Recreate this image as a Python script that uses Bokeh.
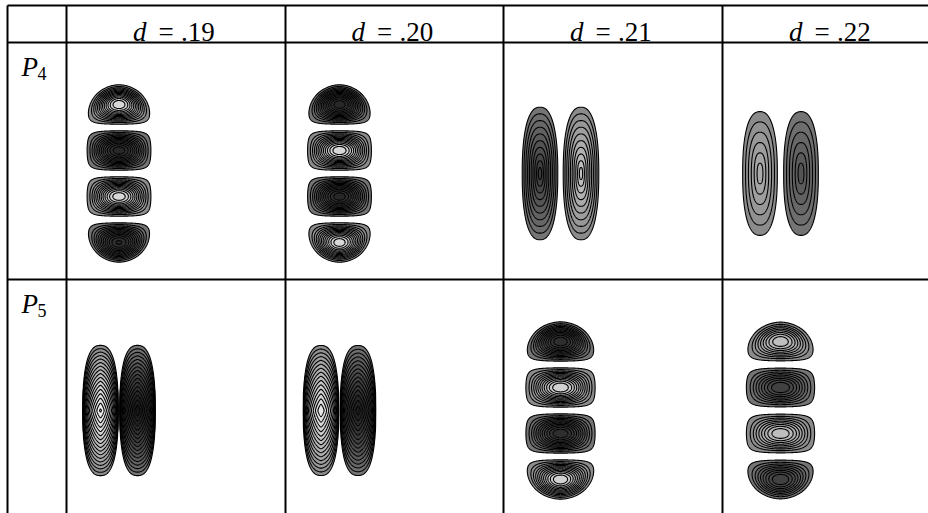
import numpy as np
from bokeh.plotting import figure
from bokeh.models import Range1d
from bokeh.core.properties import value
from bokeh.embed import file_html
from bokeh.resources import INLINE

# ---------------------------------------------------------------- data
d_labels = [".19", ".20", ".21", ".22"]          # column headers, d = ...
mode_labels = ["4", "5"]                         # row headers, P_n

# arrangement of the nodal domains of each eigenfunction
mode_kind = [["stack", "stack", "pair", "pair"],
             ["pinched", "pinched", "stack", "stack"]]

# sign of every nodal domain (top to bottom, or left to right)
lobe_signs = [[[1, -1, 1, -1], [-1, 1, -1, 1], [-1, 1], [1, -1]],
              [[1, -1], [1, -1], [-1, 1, -1, 1], [1, -1, 1, -1]]]

# peak of every nodal domain, measured in contour steps
lobe_peaks = [[[13.3, 13.1, 13.2, 12.6], [13.2, 13.3, 13.1, 13.2], [10.3, 10.3], [6.4, 6.4]],
              [[16.6, 16.2], [15.3, 15.0], [12.3, 12.4, 12.3, 12.4], [9.3, 9.4, 9.3, 9.4]]]

# ---------------------------------------------------------------- layout
W, H = 928, 513
col_edges = [7, 66, 285, 503, 722, 941]
row_edges = [5, 42, 279, 516]
col_dx = [52.5, 54, 57, 58]          # panel centre measured from the cell's left rule
row_dy = 131                         # panel centre measured from the cell's top rule
FONT = value("Liberation Serif")


def gray(sign, k):
    g = 0.5 + sign * (0.045 + 0.025 * k)
    h = int(round(min(max(g, 0.0), 1.0) * 255))
    return "#%02x%02x%02x" % (h, h, h)


def stack_field(u, t, pos, n):
    if pos == 0:
        w = (1 - np.clip(1 - t, 0, 1) ** 2.5) ** 0.5
    elif pos == n - 1:
        w = (1 - np.clip(t, 0, 1) ** 2.5) ** 0.5
    else:
        w = np.ones_like(t)
    a = np.clip(np.abs(u) / np.maximum(w, 1e-6), 0, 1)
    g = np.sin(np.pi * np.clip(t, 0, 1)) * np.cos(np.pi * a / 2)
    return np.clip(g, 0, None) ** 1.5


def cone_field(u, v):
    r = (np.abs(u) ** 2.4 + np.abs(v) ** 2.4) ** (1 / 2.4)
    return np.clip(1 - r, 0, None)


def pinched_field(u, v):
    au = np.clip(np.abs(u), 0, 1)
    s = np.clip(1 - au ** 2.6, 0, None) ** (1 / 2.6)
    arch = np.clip(1 - (np.abs(v) / np.maximum(s, 1e-6)) ** 1.2, 0, None)
    across = (1 - 0.55 * au ** 1.3) * np.clip(1 - au ** 6, 0, None) ** 0.4
    return arch * across


p = figure(width=W, height=H, x_range=Range1d(0, W), y_range=Range1d(H, 0),
           output_backend="svg", toolbar_location=None, min_border=0,
           x_axis_location=None, y_axis_location=None)
p.grid.visible = False
p.outline_line_color = None
p.background_fill_color = "white"
p.border_fill_color = "white"


def draw_lobe(x0, x1, y0, y1, field, amp, sign):
    xs = np.arange(x0 - 1.5, x1 + 1.5, 0.5)
    ys = np.arange(y0 - 1.5, y1 + 1.5, 0.5)
    X, Y = np.meshgrid(xs, ys)
    Z = amp * field(X, Y)
    levels = list(np.arange(0.4, amp, 1.0)) + [amp + 1.0]
    fills = [gray(sign, k) for k in range(len(levels) - 1)]
    p.contour(xs, ys, Z, levels, fill_color=fills, line_color="black", line_width=1.1)


for r in range(2):
    for c in range(4):
        kind = mode_kind[r][c]
        signs = lobe_signs[r][c]
        peaks = lobe_peaks[r][c]
        cx = col_edges[c + 1] + col_dx[c]
        cy = row_edges[r + 1] + row_dy
        n = len(signs)
        if kind == "stack":
            hw = 34 if r == 0 else 37
            total, gap = 180, 4
            lh = (total - gap * (n - 1)) / n
            top = cy - total / 2
            for i in range(n):
                ya = top + i * (lh + gap)
                f = (lambda X, Y, ya=ya, i=i:
                     stack_field((X - cx) / hw, (Y - ya) / lh, i, n))
                draw_lobe(cx - hw, cx + hw, ya, ya + lh, f, peaks[i], signs[i])
        else:
            if kind == "pair":
                lw, gap = 37, 4
                ht = 138 if c == 2 else 132
                field = cone_field
            else:
                lw, gap = 35.5, 1.5
                ht = 133
                field = pinched_field
            left = cx - (n * lw + (n - 1) * gap) / 2
            for j in range(n):
                xa = left + j * (lw + gap)
                xm = xa + lw / 2
                f = (lambda X, Y, xm=xm, fld=field:
                     fld((X - xm) / (lw / 2), (Y - cy) / (ht / 2)))
                draw_lobe(xa, xa + lw, cy - ht / 2, cy + ht / 2, f, peaks[j], signs[j])

# table rules
hx0 = [col_edges[0]] * 3
hx1 = [col_edges[-1]] * 3
hy = row_edges[:3]
vx = col_edges[:5]
p.segment(x0=hx0, y0=hy, x1=hx1, y1=hy, line_color="black", line_width=2)
p.segment(x0=vx, y0=[row_edges[0]] * 5, x1=vx, y1=[row_edges[-1]] * 5,
          line_color="black", line_width=2)

# column headers: d = .xx
hcx = [(col_edges[c + 1] + col_edges[c + 2]) / 2 for c in range(4)]
base = 31
p.text(x=[x - 43 for x in hcx], y=[base] * 4, text=["d"] * 4, text_font=FONT,
       text_font_style="italic", text_font_size="27px", text_baseline="alphabetic",
       text_align="left", text_color="black")
p.text(x=[x - 10 for x in hcx], y=[base] * 4, text=["="] * 4, text_font=FONT,
       text_font_size="27px", text_baseline="alphabetic", text_align="center",
       text_color="black")
p.text(x=[x + 5 for x in hcx], y=[base] * 4, text=d_labels, text_font=FONT,
       text_font_size="27px", text_baseline="alphabetic", text_align="left",
       text_color="black")

# row headers: P_n
ry = [row_edges[r + 1] for r in range(2)]
p.text(x=[21, 21], y=[y + 24 for y in ry], text=["P", "P"], text_font=FONT,
       text_font_style="italic", text_font_size="27px", text_baseline="alphabetic",
       text_align="left", text_color="black")
p.text(x=[37, 37], y=[y + 31 for y in ry], text=mode_labels, text_font=FONT,
       text_font_size="18px", text_baseline="alphabetic", text_align="left",
       text_color="black")

open("out.html", "w").write(file_html(p, INLINE))
